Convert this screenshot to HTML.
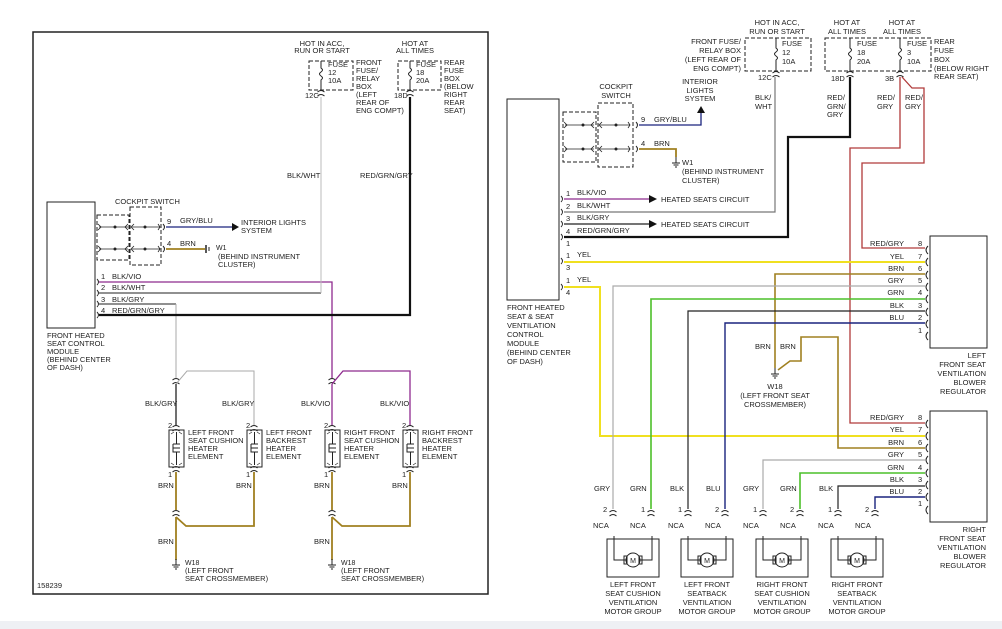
<!DOCTYPE html>
<html><head><meta charset="utf-8"><style>
html,body{margin:0;padding:0;background:#fff}
svg{display:block}
text{font-family:"Liberation Sans",sans-serif;font-size:7.5px;fill:#222}
.s{font-size:7px}
</style></head><body>
<svg width="1002" height="629" viewBox="0 0 1002 629" xmlns="http://www.w3.org/2000/svg">
<defs>
<path id="cn" d="M-3.5,-1 Q0,-4 3.5,-1 M-3.5,3 Q0,0 3.5,3" fill="none" stroke="#222" stroke-width="1"/>
<g id="gnd" stroke="#222" stroke-width="1"><line x1="0" y1="-4" x2="0" y2="2"/><line x1="-4" y1="2" x2="4" y2="2"/><line x1="-2.5" y1="4" x2="2.5" y2="4"/><line x1="-1" y1="6" x2="1" y2="6"/></g>
<g id="htr" fill="none" stroke="#222" stroke-width="1"><rect x="0" y="0" width="15" height="37"/><path d="M7.5,2 V14 M4,14 H11 M4,14 V22 H11 V22 M7.5,22 V35 M4,18 H11"/><path d="M2,4 l3,-2 M13,4 l-3,-2 M2,33 l3,2 M13,33 l-3,2" stroke-width=".6"/></g>
<g id="mot" fill="none" stroke="#222" stroke-width="1"><rect x="0" y="0" width="52" height="38"/><path d="M7,-3 V21 H19 M45,-3 V21 H33"/><circle cx="26" cy="21" r="7"/><rect x="17" y="17" width="3" height="8"/><rect x="32" y="17" width="3" height="8"/></g>
<g id="rc"><path d="M3,-4 Q-1,0 3,4" fill="none" stroke="#222" stroke-width="1"/></g>
</defs>
<rect x="0" y="621" width="1002" height="8" fill="#eef0f4"/>

<!-- LEFT PANEL -->
<rect x="33" y="32" width="455" height="562" fill="none" stroke="#222" stroke-width="1.5"/>
<rect x="47" y="202" width="48" height="126" fill="none" stroke="#222" stroke-width="1"/>
<text x="47" y="338">FRONT HEATED</text><text x="47" y="346">SEAT CONTROL</text><text x="47" y="354">MODULE</text><text x="47" y="362">(BEHIND CENTER</text><text x="47" y="370">OF DASH)</text>
<!-- cockpit switch -->
<text x="115" y="204">COCKPIT SWITCH</text>
<g fill="none" stroke="#222" stroke-width="1" stroke-dasharray="4,2"><rect x="97" y="215" width="32" height="45"/><rect x="130" y="207" width="31" height="58"/></g>
<g stroke="#222" stroke-width=".8" fill="none"><path d="M99,227 H128 M132,227 H160 M99,249 H128 M132,249 H160"/><path d="M98,224 l3,3 l-3,3 M98,246 l3,3 l-3,3 M128,224 l-3,3 l3,3 M128,246 l-3,3 l3,3 M134,224 l-3,3 l3,3 M134,246 l-3,3 l3,3 M158,224 l2,3 l-2,3 M158,246 l2,3 l-2,3"/></g>
<circle cx="115" cy="227" r="1.5" fill="#222"/><circle cx="145" cy="227" r="1.5" fill="#222"/><circle cx="115" cy="249" r="1.5" fill="#222"/><circle cx="145" cy="249" r="1.5" fill="#222"/>
<path d="M163,224 q3,3 0,6 M163,246 q3,3 0,6" stroke="#222" fill="none"/>
<line x1="166" y1="227" x2="232" y2="227" stroke="#1a237e" stroke-width="1.3"/><path d="M232,223 L239,227 L232,231Z" fill="#111"/>
<text x="167" y="224">9</text><text x="180" y="223">GRY/BLU</text>
<text x="241" y="225">INTERIOR LIGHTS</text><text x="241" y="233">SYSTEM</text>
<line x1="166" y1="249" x2="205" y2="249" stroke="#a08020" stroke-width="1.8"/><line x1="206" y1="245" x2="206" y2="253" stroke="#222" stroke-width="1.5"/><line x1="209" y1="247" x2="209" y2="251" stroke="#222"/>
<text x="167" y="246">4</text><text x="180" y="246">BRN</text>
<text x="216" y="250" class="s">W1</text><text x="218" y="259">(BEHIND INSTRUMENT</text><text x="218" y="267">CLUSTER)</text>
<!-- module pins -->
<g stroke="#222" fill="none" stroke-width=".9"><path d="M97,279 q3,3 0,6 M97,290 q3,3 0,6 M97,301 q3,3 0,6 M97,312 q3,3 0,6"/></g>
<text x="101" y="279">1</text><text x="112" y="279">BLK/VIO</text>
<text x="101" y="290">2</text><text x="112" y="290">BLK/WHT</text>
<text x="101" y="302">3</text><text x="112" y="302">BLK/GRY</text>
<text x="101" y="313">4</text><text x="112" y="313">RED/GRN/GRY</text>
<path d="M99,282 H332 V378" stroke="#8e2a8e" stroke-width="1.3" fill="none"/>
<path d="M99,293 H321" stroke="#222" stroke-width="1" fill="none"/>
<path d="M321,293 V97" stroke="#bbb" stroke-width="1" fill="none"/>
<path d="M99,304 H176" stroke="#222" stroke-width="1" fill="none"/>
<path d="M176,304 V378" stroke="#aaa" stroke-width="1" fill="none"/>
<path d="M99,315 H410 V97" stroke="#111" stroke-width="2.2" fill="none"/>
<!-- fuses left -->
<text x="322" y="46" text-anchor="middle">HOT IN ACC,</text><text x="322" y="53" text-anchor="middle">RUN OR START</text>
<text x="415" y="46" text-anchor="middle">HOT AT</text><text x="415" y="53" text-anchor="middle">ALL TIMES</text>
<g fill="none" stroke="#222" stroke-width="1" stroke-dasharray="4,2"><rect x="309" y="61" width="44" height="29"/><rect x="398" y="61" width="43" height="29"/></g>
<path d="M321,61 V68 q3,2 0,4 q-3,2 0,4 q3,2 0,4 V90 M410,61 V68 q3,2 0,4 q-3,2 0,4 q3,2 0,4 V90" stroke="#222" fill="none"/>
<use href="#cn" x="321" y="93"/><use href="#cn" x="410" y="93"/>
<text x="328" y="67">FUSE</text><text x="328" y="75">12</text><text x="328" y="83">10A</text>
<text x="416" y="67">FUSE</text><text x="416" y="75">18</text><text x="416" y="83">20A</text>
<text x="356" y="65">FRONT</text><text x="356" y="73">FUSE/</text><text x="356" y="81">RELAY</text><text x="356" y="89">BOX</text><text x="356" y="97">(LEFT</text><text x="356" y="105">REAR OF</text><text x="356" y="113">ENG COMPT)</text>
<text x="444" y="65">REAR</text><text x="444" y="73">FUSE</text><text x="444" y="81">BOX</text><text x="444" y="89">(BELOW</text><text x="444" y="97">RIGHT</text><text x="444" y="105">REAR</text><text x="444" y="113">SEAT)</text>
<text x="305" y="98">12C</text><text x="394" y="98">18D</text>
<text x="287" y="178">BLK/WHT</text><text x="360" y="178">RED/GRN/GRY</text>
<!-- lower left heaters -->
<use href="#cn" x="176" y="381"/><use href="#cn" x="332" y="381"/>
<path d="M176,384 L187,371 H254 V426" stroke="#aaa" fill="none"/>
<path d="M176,384 V426" stroke="#222" stroke-width="1.3" fill="none"/>
<path d="M332,384 L343,371 H410 V426" stroke="#8e2a8e" stroke-width="1.3" fill="none"/>
<path d="M332,384 V426" stroke="#8e2a8e" stroke-width="1.3" fill="none"/>
<text x="145" y="406">BLK/GRY</text><text x="222" y="406">BLK/GRY</text><text x="301" y="406">BLK/VIO</text><text x="380" y="406">BLK/VIO</text>
<use href="#htr" x="169" y="430"/><use href="#htr" x="247" y="430"/><use href="#htr" x="325" y="430"/><use href="#htr" x="403" y="430"/>
<use href="#cn" x="176" y="428"/><use href="#cn" x="254" y="428"/><use href="#cn" x="332" y="428"/><use href="#cn" x="410" y="428"/>
<use href="#cn" x="176" y="469"/><use href="#cn" x="254" y="469"/><use href="#cn" x="332" y="469"/><use href="#cn" x="410" y="469"/>
<text x="168" y="428">2</text><text x="246" y="428">2</text><text x="324" y="428">2</text><text x="402" y="428">2</text>
<text x="168" y="477">1</text><text x="246" y="477">1</text><text x="324" y="477">1</text><text x="402" y="477">1</text>
<text x="188" y="435">LEFT FRONT</text><text x="188" y="443">SEAT CUSHION</text><text x="188" y="451">HEATER</text><text x="188" y="459">ELEMENT</text>
<text x="266" y="435">LEFT FRONT</text><text x="266" y="443">BACKREST</text><text x="266" y="451">HEATER</text><text x="266" y="459">ELEMENT</text>
<text x="344" y="435">RIGHT FRONT</text><text x="344" y="443">SEAT CUSHION</text><text x="344" y="451">HEATER</text><text x="344" y="459">ELEMENT</text>
<text x="422" y="435">RIGHT FRONT</text><text x="422" y="443">BACKREST</text><text x="422" y="451">HEATER</text><text x="422" y="459">ELEMENT</text>
<g stroke="#a08020" stroke-width="1.8" fill="none">
<path d="M176,472 V510 M176,517 L186,526 H254 V472 M176,517 V560"/>
<path d="M332,472 V510 M332,517 L342,526 H410 V472 M332,517 V560"/></g>
<use href="#cn" x="176" y="513"/><use href="#cn" x="332" y="513"/>
<text x="158" y="488">BRN</text><text x="236" y="488">BRN</text><text x="314" y="488">BRN</text><text x="392" y="488">BRN</text>
<text x="158" y="544">BRN</text><text x="314" y="544">BRN</text>
<use href="#gnd" x="176" y="563"/><use href="#gnd" x="332" y="563"/>
<text x="185" y="565" class="s">W18</text><text x="185" y="573">(LEFT FRONT</text><text x="185" y="581">SEAT CROSSMEMBER)</text>
<text x="341" y="565" class="s">W18</text><text x="341" y="573">(LEFT FRONT</text><text x="341" y="581">SEAT CROSSMEMBER)</text>
<text x="37" y="588">158239</text>

<!-- RIGHT PANEL -->
<rect x="507" y="99" width="52" height="201" fill="none" stroke="#222" stroke-width="1"/>
<text x="507" y="310">FRONT HEATED</text><text x="507" y="319">SEAT &amp; SEAT</text><text x="507" y="328">VENTILATION</text><text x="507" y="337">CONTROL</text><text x="507" y="346">MODULE</text><text x="507" y="355">(BEHIND CENTER</text><text x="507" y="364">OF DASH)</text>
<text x="616" y="89" text-anchor="middle">COCKPIT</text><text x="616" y="98" text-anchor="middle">SWITCH</text>
<g fill="none" stroke="#222" stroke-width="1" stroke-dasharray="4,2"><rect x="563" y="112" width="33" height="50"/><rect x="598" y="103" width="35" height="64"/></g>
<g stroke="#222" stroke-width=".8" fill="none"><path d="M565,125 H594 M600,125 H630 M565,149 H594 M600,149 H630"/><path d="M564,122 l3,3 l-3,3 M564,146 l3,3 l-3,3 M594,122 l-3,3 l3,3 M594,146 l-3,3 l3,3 M602,122 l-3,3 l3,3 M602,146 l-3,3 l3,3 M628,122 l2,3 l-2,3 M628,146 l2,3 l-2,3"/></g>
<circle cx="583" cy="125" r="1.5" fill="#222"/><circle cx="616" cy="125" r="1.5" fill="#222"/><circle cx="583" cy="149" r="1.5" fill="#222"/><circle cx="616" cy="149" r="1.5" fill="#222"/>
<path d="M636,122 q3,3 0,6 M636,146 q3,3 0,6" stroke="#222" fill="none"/>
<path d="M639,125 H701 V112" stroke="#1a237e" stroke-width="1.3" fill="none"/><path d="M697,113 L701,106 L705,113Z" fill="#111"/>
<text x="641" y="122">9</text><text x="654" y="122">GRY/BLU</text>
<text x="700" y="84" text-anchor="middle">INTERIOR</text><text x="700" y="93" text-anchor="middle">LIGHTS</text><text x="700" y="101" text-anchor="middle">SYSTEM</text>
<path d="M639,149 H676 V157" stroke="#a08020" stroke-width="1.8" fill="none"/>
<use href="#gnd" x="676" y="161"/>
<text x="641" y="146">4</text><text x="654" y="146">BRN</text>
<text x="682" y="165">W1</text><text x="682" y="174">(BEHIND INSTRUMENT</text><text x="682" y="183">CLUSTER)</text>
<g stroke="#222" fill="none" stroke-width=".9"><path d="M561,196 q3,3 0,6 M561,209 q3,3 0,6 M561,221 q3,3 0,6 M561,234 q3,3 0,6 M561,258 q3,3 0,6 M561,284 q3,3 0,6"/></g>
<text x="566" y="196">1</text><text x="577" y="195">BLK/VIO</text>
<text x="566" y="209">2</text><text x="577" y="208">BLK/WHT</text>
<text x="566" y="221">3</text><text x="577" y="220">BLK/GRY</text>
<text x="566" y="234">4</text><text x="577" y="233">RED/GRN/GRY</text>
<text x="566" y="246">1</text>
<text x="566" y="258">1</text><text x="577" y="257">YEL</text><text x="566" y="270">3</text>
<text x="566" y="283">1</text><text x="577" y="282">YEL</text><text x="566" y="295">4</text>
<path d="M564,199 H649" stroke="#8e2a8e" stroke-width="1.2"/><path d="M649,195 L657,199 L649,203Z" fill="#111"/>
<text x="661" y="202">HEATED SEATS CIRCUIT</text>
<path d="M564,212 H775 V77" stroke="#777" stroke-width="1.2" fill="none"/>
<path d="M564,224 H649" stroke="#222" stroke-width="1.2"/><path d="M649,220 L657,224 L649,228Z" fill="#111"/>
<text x="661" y="227">HEATED SEATS CIRCUIT</text>
<path d="M564,237 H788 V137 H850 V77" stroke="#111" stroke-width="2.2" fill="none"/>
<!-- fuses right -->
<g fill="none" stroke="#222" stroke-width="1" stroke-dasharray="4,2"><rect x="745" y="38" width="66" height="33"/><rect x="825" y="38" width="106" height="33"/></g>
<path d="M776,38 V48 q3,2 0,4 q-3,2 0,4 q3,2 0,4 V71 M850,38 V48 q3,2 0,4 q-3,2 0,4 q3,2 0,4 V71 M900,38 V48 q3,2 0,4 q-3,2 0,4 q3,2 0,4 V71" stroke="#222" fill="none"/>
<use href="#cn" x="776" y="74"/><use href="#cn" x="850" y="74"/><use href="#cn" x="900" y="74"/>
<text x="777" y="25" text-anchor="middle">HOT IN ACC,</text><text x="777" y="34" text-anchor="middle">RUN OR START</text>
<text x="847" y="25" text-anchor="middle">HOT AT</text><text x="847" y="34" text-anchor="middle">ALL TIMES</text>
<text x="902" y="25" text-anchor="middle">HOT AT</text><text x="902" y="34" text-anchor="middle">ALL TIMES</text>
<text x="782" y="46">FUSE</text><text x="782" y="55">12</text><text x="782" y="64">10A</text>
<text x="857" y="46">FUSE</text><text x="857" y="55">18</text><text x="857" y="64">20A</text>
<text x="907" y="46">FUSE</text><text x="907" y="55">3</text><text x="907" y="64">10A</text>
<text x="741" y="44" text-anchor="end">FRONT FUSE/</text><text x="741" y="53" text-anchor="end">RELAY BOX</text><text x="741" y="62" text-anchor="end">(LEFT REAR OF</text><text x="741" y="71" text-anchor="end">ENG COMPT)</text>
<text x="934" y="44">REAR</text><text x="934" y="53">FUSE</text><text x="934" y="62">BOX</text><text x="934" y="71">(BELOW RIGHT</text><text x="934" y="79">REAR SEAT)</text>
<text x="758" y="80">12C</text><text x="831" y="81">18D</text><text x="885" y="81">3B</text>
<text x="755" y="100">BLK/</text><text x="755" y="109">WHT</text>
<text x="827" y="100">RED/</text><text x="827" y="109">GRN/</text><text x="827" y="117">GRY</text>
<text x="877" y="100">RED/</text><text x="877" y="109">GRY</text>
<text x="905" y="100">RED/</text><text x="905" y="109">GRY</text>
<!-- red wires -->
<path d="M900,77 V148 H850 V423 H925" stroke="#b03a3a" stroke-width="1.3" fill="none"/>
<path d="M902,77 L912,88 H924 V163 H862 V248 H925" stroke="#b03a3a" stroke-width="1.3" fill="none"/>
<!-- left regulator -->
<rect x="930" y="236" width="57" height="112" fill="none" stroke="#222" stroke-width="1"/>
<text x="986" y="358" text-anchor="end">LEFT</text><text x="986" y="367" text-anchor="end">FRONT SEAT</text><text x="986" y="376" text-anchor="end">VENTILATION</text><text x="986" y="385" text-anchor="end">BLOWER</text><text x="986" y="394" text-anchor="end">REGULATOR</text>
<g><text x="904" y="246" text-anchor="end">RED/GRY</text><text x="904" y="259" text-anchor="end">YEL</text><text x="904" y="271" text-anchor="end">BRN</text><text x="904" y="283" text-anchor="end">GRY</text><text x="904" y="295" text-anchor="end">GRN</text><text x="904" y="308" text-anchor="end">BLK</text><text x="904" y="320" text-anchor="end">BLU</text>
<text x="918" y="246">8</text><text x="918" y="259">7</text><text x="918" y="271">6</text><text x="918" y="283">5</text><text x="918" y="295">4</text><text x="918" y="308">3</text><text x="918" y="320">2</text><text x="918" y="333">1</text></g>
<use href="#rc" x="925" y="250"/><use href="#rc" x="925" y="262"/><use href="#rc" x="925" y="275"/><use href="#rc" x="925" y="287"/><use href="#rc" x="925" y="299"/><use href="#rc" x="925" y="312"/><use href="#rc" x="925" y="324"/><use href="#rc" x="925" y="336"/>
<!-- right regulator -->
<rect x="930" y="411" width="57" height="111" fill="none" stroke="#222" stroke-width="1"/>
<text x="986" y="532" text-anchor="end">RIGHT</text><text x="986" y="541" text-anchor="end">FRONT SEAT</text><text x="986" y="550" text-anchor="end">VENTILATION</text><text x="986" y="559" text-anchor="end">BLOWER</text><text x="986" y="568" text-anchor="end">REGULATOR</text>
<g><text x="904" y="420" text-anchor="end">RED/GRY</text><text x="904" y="432" text-anchor="end">YEL</text><text x="904" y="445" text-anchor="end">BRN</text><text x="904" y="457" text-anchor="end">GRY</text><text x="904" y="470" text-anchor="end">GRN</text><text x="904" y="482" text-anchor="end">BLK</text><text x="904" y="494" text-anchor="end">BLU</text>
<text x="918" y="420">8</text><text x="918" y="432">7</text><text x="918" y="445">6</text><text x="918" y="457">5</text><text x="918" y="470">4</text><text x="918" y="482">3</text><text x="918" y="494">2</text><text x="918" y="506">1</text></g>
<use href="#rc" x="925" y="424"/><use href="#rc" x="925" y="436"/><use href="#rc" x="925" y="448"/><use href="#rc" x="925" y="460"/><use href="#rc" x="925" y="473"/><use href="#rc" x="925" y="485"/><use href="#rc" x="925" y="497"/><use href="#rc" x="925" y="510"/>
<!-- wires to regulators -->
<path d="M564,262 H925" stroke="#f0e020" stroke-width="2"/>
<path d="M564,287 H600 V436 H925" stroke="#f0e020" stroke-width="2" fill="none"/>
<path d="M925,274 H775 V368" stroke="#a08020" stroke-width="1.6" fill="none"/>
<path d="M925,448 H838 V337 H801 V361 H790 L778,370" stroke="#a08020" stroke-width="1.6" fill="none"/>
<path d="M925,286 H613 V509" stroke="#aaa" stroke-width="1.2" fill="none"/>
<path d="M925,299 H651 V509" stroke="#4cc02a" stroke-width="1.6" fill="none"/>
<path d="M925,311 H688 V509" stroke="#222" stroke-width="1.2" fill="none"/>
<path d="M925,323 H725 V509" stroke="#1a237e" stroke-width="1.4" fill="none"/>
<path d="M925,460 H763 V509" stroke="#aaa" stroke-width="1.2" fill="none"/>
<path d="M925,473 H800 V509" stroke="#4cc02a" stroke-width="1.6" fill="none"/>
<path d="M925,486 H838 V509" stroke="#222" stroke-width="1.2" fill="none"/>
<path d="M925,497 H875 V509" stroke="#1a237e" stroke-width="1.4" fill="none"/>
<text x="755" y="349">BRN</text><text x="780" y="349">BRN</text>
<use href="#gnd" x="775" y="372"/>
<text x="775" y="389" text-anchor="middle">W18</text><text x="775" y="398" text-anchor="middle">(LEFT FRONT SEAT</text><text x="775" y="407" text-anchor="middle">CROSSMEMBER)</text>
<!-- motor connectors -->
<g>
<use href="#cn" x="613" y="513"/><use href="#cn" x="651" y="513"/><use href="#cn" x="688" y="513"/><use href="#cn" x="725" y="513"/>
<use href="#cn" x="763" y="513"/><use href="#cn" x="800" y="513"/><use href="#cn" x="838" y="513"/><use href="#cn" x="875" y="513"/>
</g>
<text x="594" y="491">GRY</text><text x="630" y="491">GRN</text><text x="670" y="491">BLK</text><text x="706" y="491">BLU</text><text x="743" y="491">GRY</text><text x="780" y="491">GRN</text><text x="819" y="491">BLK</text>
<text x="603" y="512">2</text><text x="641" y="512">1</text><text x="678" y="512">1</text><text x="715" y="512">2</text><text x="753" y="512">1</text><text x="790" y="512">2</text><text x="828" y="512">1</text><text x="865" y="512">2</text>
<text x="593" y="528">NCA</text><text x="630" y="528">NCA</text><text x="668" y="528">NCA</text><text x="705" y="528">NCA</text><text x="743" y="528">NCA</text><text x="780" y="528">NCA</text><text x="818" y="528">NCA</text><text x="855" y="528">NCA</text>
<use href="#mot" x="607" y="539"/><use href="#mot" x="681" y="539"/><use href="#mot" x="756" y="539"/><use href="#mot" x="831" y="539"/>
<text x="633" y="563" text-anchor="middle" class="s">M</text><text x="707" y="563" text-anchor="middle" class="s">M</text><text x="782" y="563" text-anchor="middle" class="s">M</text><text x="857" y="563" text-anchor="middle" class="s">M</text>
<g text-anchor="middle">
<text x="633" y="587">LEFT FRONT</text><text x="633" y="596">SEAT CUSHION</text><text x="633" y="605">VENTILATION</text><text x="633" y="614">MOTOR GROUP</text>
<text x="707" y="587">LEFT FRONT</text><text x="707" y="596">SEATBACK</text><text x="707" y="605">VENTILATION</text><text x="707" y="614">MOTOR GROUP</text>
<text x="782" y="587">RIGHT FRONT</text><text x="782" y="596">SEAT CUSHION</text><text x="782" y="605">VENTILATION</text><text x="782" y="614">MOTOR GROUP</text>
<text x="857" y="587">RIGHT FRONT</text><text x="857" y="596">SEATBACK</text><text x="857" y="605">VENTILATION</text><text x="857" y="614">MOTOR GROUP</text>
</g>
</svg>
</body></html>
